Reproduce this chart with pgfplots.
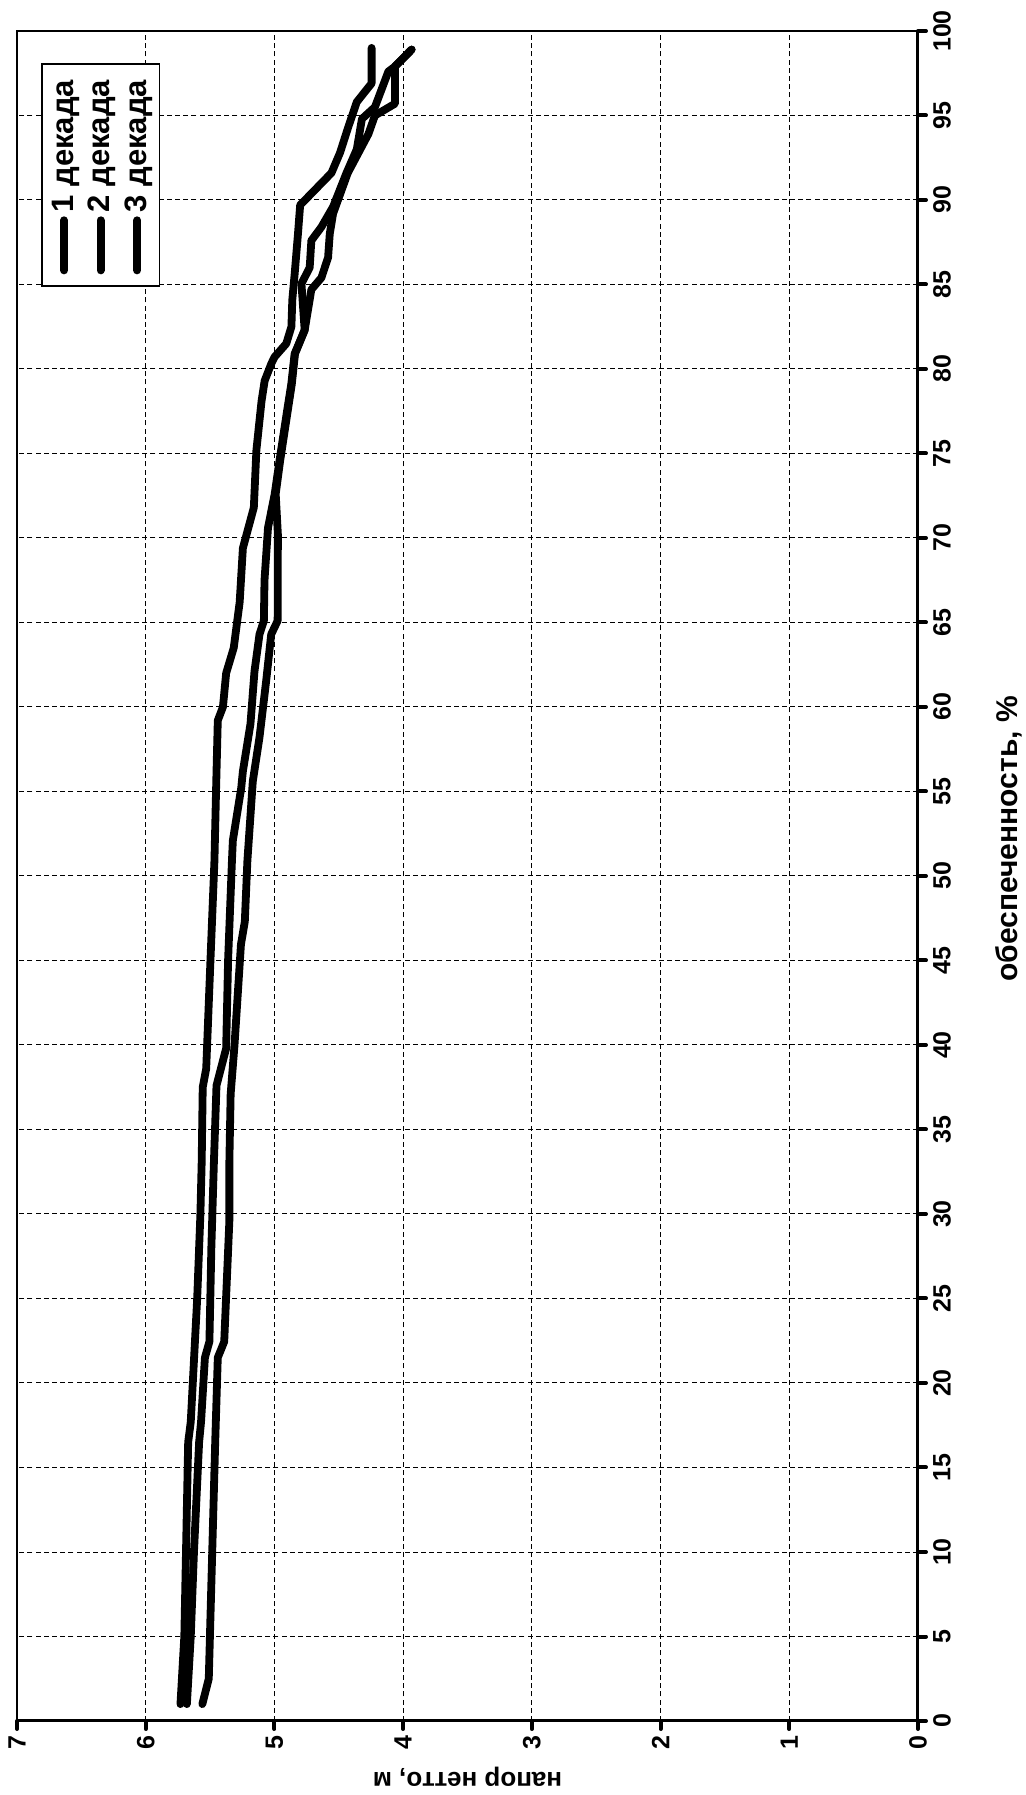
\documentclass[border=0pt]{standalone}
\usepackage{fontspec}
\setmainfont{Liberation Sans}
\usepackage{graphicx}
\usepackage{pgfplots}
\pgfplotsset{compat=1.18}
\begin{document}
\rotatebox{90}{%
\begin{tikzpicture}
\useasboundingbox (-37pt,-54pt) rectangle (860.5pt,459pt);
\begin{axis}[
  at={(0pt,0pt)}, anchor=south west,
  scale only axis, width=845pt, height=450.5pt,
  xmin=0, xmax=100, ymin=0, ymax=7,
  xtick distance=5, ytick distance=1,
  xtick pos=bottom, ytick pos=left,
  tick align=outside,
  major tick length=4pt,
  every tick/.style={black, line width=2pt, line cap=round},
  axis line style={black, line width=0.8pt},
  grid=major,
  grid style={black, line width=0.5pt, dash pattern=on 2.5pt off 1.6pt},
  /pgf/number format/assume math mode=true,
  ticklabel style={font=\bfseries\fontsize{12.5}{14}\selectfont},
  xlabel={обеспеченность, \%},
  ylabel={напор нетто, м},
  xlabel style={font=\bfseries\fontsize{15}{17}\selectfont, at={(axis description cs:0.522,-0.11)}, anchor=base},
  ylabel style={font=\bfseries\fontsize{13}{15}\selectfont, at={(axis description cs:-0.0331,0.5)}, anchor=center},
  legend style={at={(rel axis cs:1,1)}, anchor=north east, xshift=-16pt, yshift=-12pt,
    draw=black, line width=0.9pt, font=\bfseries\fontsize{15.5}{17}\selectfont,
    row sep=2pt, inner xsep=6pt, inner ysep=3pt},
  legend cell align=left,
  legend image code/.code={\draw[black, line width=4pt, line cap=round] (0pt,0pt) -- (25pt,0pt);},
]
\addplot[black, line width=3.9pt, line join=round, line cap=round] coordinates {
(1.0,5.73) (5.0,5.70) (16.5,5.67) (17.7,5.65) (25.0,5.60) (30.0,5.575) (33.1,5.565) (37.5,5.557) (38.6,5.53) (45.0,5.497) (50.9,5.466) (55.2,5.453) (59.2,5.44) (60.0,5.40) (62.0,5.375) (63.5,5.316) (66.2,5.27) (69.4,5.245) (71.8,5.16) (75.2,5.14) (78.1,5.10) (79.3,5.076) (80.3,5.025) (80.7,5.00) (81.5,4.908) (82.5,4.868) (84.1,4.861) (85.6,4.843) (88.0,4.817) (89.7,4.80) (91.6,4.557) (92.8,4.49) (94.3,4.427) (95.8,4.36) (96.9,4.245) (99.0,4.245)
};
\addlegendentry{1 декада}
\addplot[black, line width=3.9pt, line join=round, line cap=round] coordinates {
(1.0,5.68) (5.0,5.65) (10,5.625) (16.5,5.585) (17.7,5.57) (21.5,5.54) (22.45,5.505) (28,5.49) (33.1,5.47) (37.6,5.45) (39.8,5.375) (45.0,5.36) (50.9,5.33) (52.1,5.323) (55.2,5.258) (56.2,5.245) (59.0,5.186) (62.1,5.155) (64.3,5.116) (65.1,5.082) (67.5,5.077) (70.6,5.05) (72.6,4.998) (74.6,4.96) (77.6,4.90) (79.1,4.869) (80.9,4.843) (82.3,4.765) (85.05,4.79) (86.0,4.726) (87.6,4.713) (88.4,4.635) (89.6,4.544) (91.6,4.44) (93.0,4.36) (94.8,4.32) (95.5,4.219) (97.6,4.115) (97.9,4.063) (98.9,3.934)
};
\addlegendentry{2 декада}
\addplot[black, line width=3.9pt, line join=round, line cap=round] coordinates {
(1.0,5.56) (2.5,5.51) (16.5,5.46) (21.5,5.44) (22.45,5.39) (29.6,5.35) (33.1,5.35) (37.1,5.34) (40.0,5.31) (45.95,5.26) (47.3,5.23) (50.9,5.21) (55.6,5.168) (58.2,5.116) (61.55,5.064) (64.3,5.025) (65.1,4.975) (70.2,4.973) (72.6,4.99) (74.6,4.955) (77.6,4.895) (79.1,4.865) (80.9,4.84) (82.3,4.765) (84.7,4.713) (85.4,4.635) (86.6,4.583) (88.0,4.57) (89.2,4.544) (91.6,4.43) (93.9,4.27) (95.0,4.219) (95.7,4.063) (97.9,4.063) (98.9,3.934)
};
\addlegendentry{3 декада}
\draw[black, line width=2pt, line cap=round] (rel axis cs:0,1) -- (rel axis cs:0,0) -- (rel axis cs:1,0);
\end{axis}
\end{tikzpicture}%
}
\end{document}
